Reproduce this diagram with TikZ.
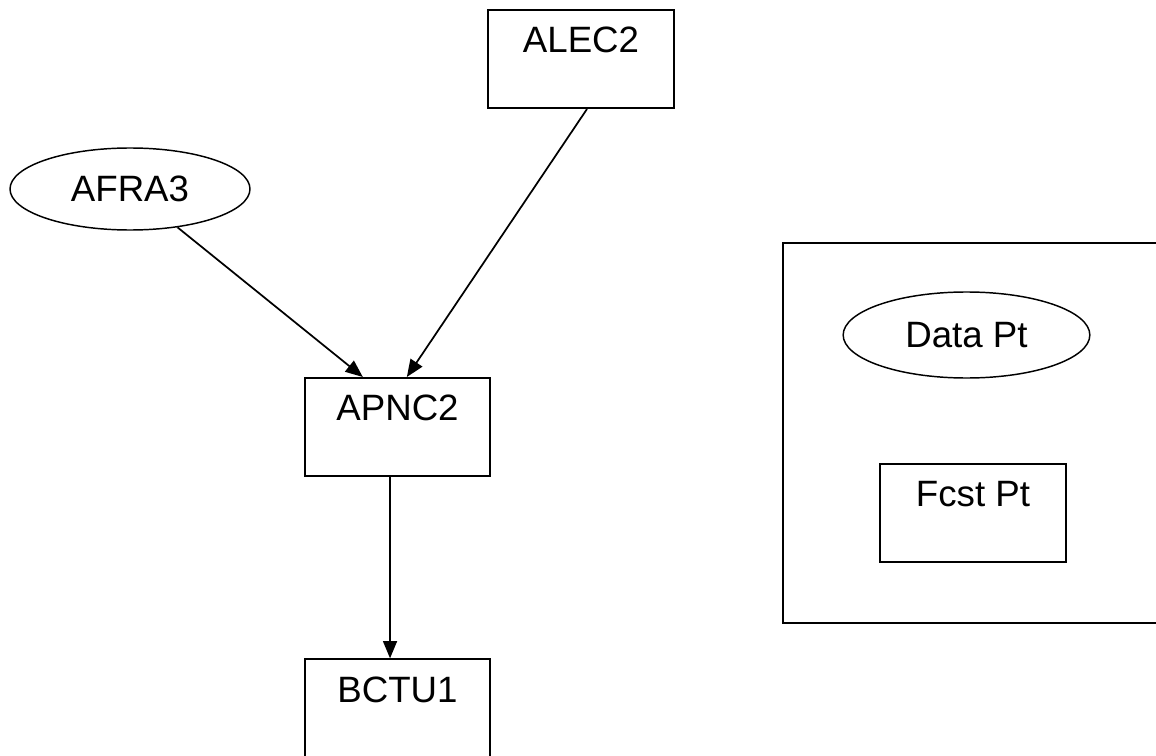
\documentclass[tikz,border=0pt]{standalone}
\usepackage{fontspec}
\setmainfont{Liberation Sans}
\usetikzlibrary{shapes.geometric,arrows.meta}

\begin{document}
\begin{tikzpicture}[x=0.75pt,y=-0.75pt,node distance=211pt,
            box node/.style={draw,line width=1.5pt,minimum width=139pt,inner xsep=0pt,
                inner ysep=12.4pt,text height=19.7pt,text depth=29pt,
                font=\fontsize{27.5}{33}\selectfont},
            oval node/.style={draw,ellipse,line width=1.1pt,inner sep=0pt,
                font=\fontsize{27.5}{33}\selectfont}]

        \useasboundingbox (0,0) rectangle (1156,756);

        % Define vertices
        \node[box node] (alec) at (581,59) {ALEC2};
        \node[oval node,minimum width=180pt,minimum height=61.5pt] (afra) at (130,189) {AFRA3};
        \node[box node] (apnc) at (397.5,427) {APNC2};
        \node[box node] (bctu) [below of=apnc] {BCTU1};

        % Key
        \node[draw,line width=1.5pt,minimum width=298pt,minimum height=285pt] (key) at (981.5,433) {};
        \node[oval node,minimum width=185pt,minimum height=64.5pt] (datapt) at (966.5,335) {Data Pt};
        \node[box node] (fcstpt) at (973,512.5) {Fcst Pt};

        % Draw edges
        \path[-{Triangle[length=13pt,width=10.5pt]},line width=1.3pt]
            (afra) edge ([xshift=-26pt]apnc.north)
            ([xshift=4.5pt]alec.south) edge ([xshift=7pt]apnc.north)
            ([xshift=-5.6pt]apnc.south) edge ([xshift=-5.6pt]bctu.north);

        \end{tikzpicture}
\end{document}
